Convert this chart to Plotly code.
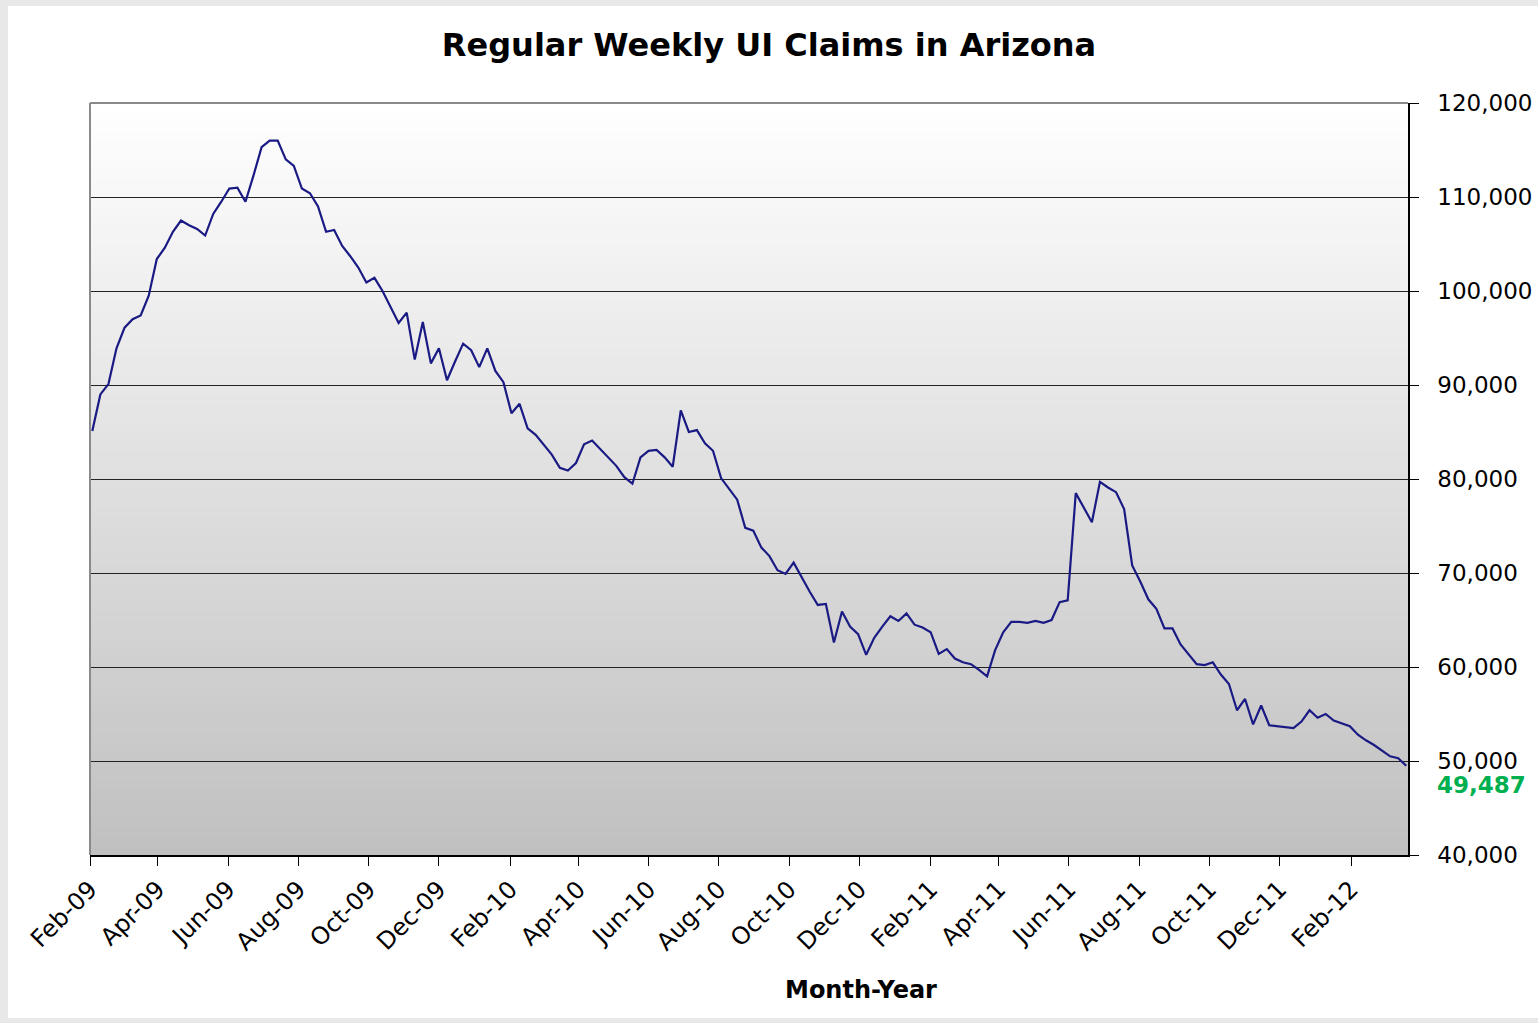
import datetime as dt
import plotly.graph_objects as go

# ---------------- data ----------------
START_DATE = dt.date(2009, 2, 3)
claims = [
    85100, 89000, 90100, 93900, 96100, 97000, 97400, 99500, 103400, 104600,
    106300, 107500, 107000, 106600, 105900, 108200, 109500, 110900, 111000, 109500,
    112300, 115300, 116000, 116000, 114000, 113300, 110900, 110400, 109000, 106300,
    106500, 104800, 103700, 102500, 100900, 101400, 100000, 98300, 96600, 97700,
    92700, 96700, 92300, 93900, 90500, 92500, 94400, 93700, 91900, 93900,
    91500, 90300, 87000, 88000, 85400, 84700, 83700, 82600, 81200, 80900,
    81700, 83700, 84100, 83200, 82300, 81400, 80200, 79500, 82300, 83000,
    83100, 82300, 81300, 87300, 85000, 85200, 83800, 83000, 80100, 79000,
    77800, 74800, 74500, 72700, 71800, 70300, 69900, 71100, 69500, 68000,
    66600, 66700, 62600, 65900, 64300, 63500, 61300, 63100, 64300, 65400,
    64900, 65700, 64500, 64200, 63700, 61400, 61900, 60900, 60500, 60300,
    59700, 59000, 61800, 63700, 64800, 64800, 64700, 64900, 64700, 65000,
    66900, 67100, 78500, 77000, 75400, 79700, 79100, 78600, 76800, 70800,
    69100, 67200, 66200, 64100, 64100, 62400, 61400, 60300, 60200, 60500,
    59200, 58200, 55400, 56600, 53900, 55900, 53800, 53700, 53600, 53500,
    54200, 55400, 54600, 55000, 54300, 54000, 53700, 52800, 52200, 51700,
    51100, 50500, 50300, 49487,
]
weeks = [START_DATE + dt.timedelta(days=7 * i) for i in range(len(claims))]

title_text = "Regular Weekly UI Claims in Arizona"
x_title = "Month-Year"
last_label = f"{claims[-1]:,}"

X_RANGE = ["2009-02-01", "2012-03-21 12:00"]
Y_MIN, Y_MAX, Y_STEP = 40000, 120000, 10000

# ---------------- figure ----------------
W, H = 1538, 1023
ML, MR, MT, MB = 90, 130, 103, 168
PW, PH = W - ML - MR, H - MT - MB

def px_x(p):
    return (p - ML) / PW

def px_y(p):
    return (H - MB - p) / PH

FONT = "DejaVu Sans"

fig = go.Figure()
fig.add_trace(go.Scatter(
    x=weeks, y=claims, mode="lines",
    line=dict(color="#1a1a84", width=2.2),
    hoverinfo="x+y", showlegend=False,
))

shapes = []
# white card over light-gray page border
shapes.append(dict(type="rect", xref="paper", yref="paper",
                   x0=px_x(8), x1=px_x(W + 5), y0=px_y(1018), y1=px_y(6),
                   fillcolor="white", line=dict(width=0), layer="below"))
# vertical gradient background in plot area
n_bands = 80
step = (Y_MAX - Y_MIN) / n_bands
top_c, bot_c = 255, 192
for i in range(n_bands):
    f = (i + 0.5) / n_bands
    c = round(bot_c + (top_c - bot_c) * f)
    col = f"rgb({c},{c},{c})"
    shapes.append(dict(type="rect", xref="x domain", yref="y",
                       x0=0, x1=1, y0=Y_MIN + i * step,
                       y1=min(Y_MAX, Y_MIN + (i + 1.6) * step),
                       fillcolor=col, line=dict(width=0), layer="below"))
# gray left & top plot border
shapes.append(dict(type="line", xref="x domain", yref="y domain",
                   x0=0, x1=0, y0=0, y1=1, line=dict(color="#8a8a8a", width=2), layer="above"))
shapes.append(dict(type="line", xref="x domain", yref="y domain",
                   x0=0, x1=1, y0=1, y1=1, line=dict(color="#8a8a8a", width=2), layer="above"))

fig.update_layout(
    width=W, height=H,
    margin=dict(l=ML, r=MR, t=MT, b=MB, autoexpand=False),
    paper_bgcolor="#e8e8e8",
    plot_bgcolor="rgba(0,0,0,0)",
    shapes=shapes,
    title=dict(text=f"<b>{title_text}</b>", x=0.5, xanchor="center",
               y=1 - 45 / H, yanchor="middle", yref="container",
               font=dict(family=FONT, size=32, color="black")),
    xaxis=dict(
        type="date", range=X_RANGE, automargin=False,
        tick0="2009-02-01", dtick="M2", tickformat="%b-%y",
        tickangle=-45, ticks="outside", ticklen=9, tickcolor="black", tickwidth=1,
        showline=True, linecolor="black", linewidth=1.5,
        showgrid=False, zeroline=False,
        tickfont=dict(family=FONT, size=24, color="black"),
    ),
    yaxis=dict(
        side="right", range=[Y_MIN, Y_MAX], dtick=Y_STEP, tick0=Y_MIN, automargin=False,
        tickformat=",", ticks="outside", ticklen=9, tickcolor="black", tickwidth=1,
        showline=True, linecolor="black", linewidth=1.5,
        showgrid=True, gridcolor="#222222", gridwidth=1.3, zeroline=False,
        ticklabelstandoff=14,
        tickfont=dict(family=FONT, size=23, color="black"),
    ),
    annotations=[
        dict(text=f"<b>{x_title}</b>", xref="paper", yref="paper",
             x=px_x(861), y=px_y(990), xanchor="center", yanchor="middle",
             showarrow=False, font=dict(family=FONT, size=24, color="black")),
        dict(text=f"<b>{last_label}</b>", xref="paper", yref="y",
             x=px_x(1435), y=claims[-1], xanchor="left", yanchor="top", yshift=-4,
             showarrow=False, font=dict(family=FONT, size=23, color="#00b050")),
    ],
)

fig.write_html(
    "out.html",
    config={"displayModeBar": False},
    post_script="document.body.style.margin='0px';document.body.style.background='#e8e8e8';document.body.style.overflow='hidden';",
)
